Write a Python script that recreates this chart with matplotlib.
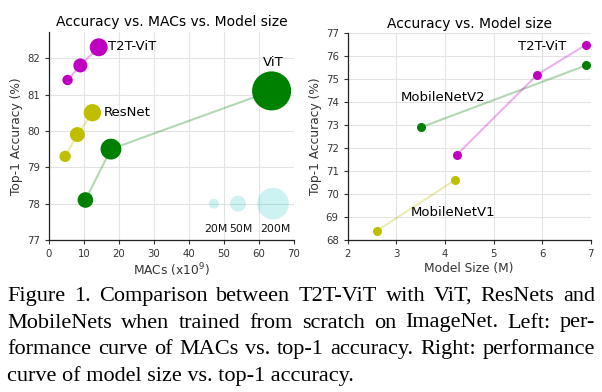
import numpy as np
import matplotlib
matplotlib.use('Agg')
import matplotlib.pyplot as plt

# Left panel: MACs (G) vs top-1, bubble = params (M)
t2t_macs = [5.3, 8.95, 14.2]
t2t_acc = [81.4, 81.8, 82.3]
t2t_params = [21.5, 39.2, 64.1]

res_macs = [4.6, 8.1, 12.4]
res_acc = [79.3, 79.9, 80.5]
res_params = [25.5, 44.6, 60.2]

vit_macs = [10.4, 17.7, 63.6]
vit_acc = [78.1, 79.5, 81.1]
vit_params = [48.6, 86.6, 304.0]

legend_x = [47.1, 54.0, 64.0]
legend_y = [78.0, 78.0, 78.0]
legend_params = [20, 50, 200]
legend_labels = ['20M', '50M', '200M']

# Right panel: model size (M) vs top-1
mbv2_size = [3.5, 6.9]
mbv2_acc = [72.9, 75.6]
t2t_size = [4.24, 5.9, 6.9]
t2t_small_acc = [71.7, 75.2, 76.5]
mbv1_size = [2.6, 4.2]
mbv1_acc = [68.4, 70.6]

caption_lines = [
    'Figure 1. Comparison between T2T-ViT with ViT, ResNets and',
    'MobileNets when trained from scratch on ImageNet.  Left: per-',
    'formance curve of MACs vs. top-1 accuracy. Right: performance',
    'curve of model size vs. top-1 accuracy.',
]

MAG = '#c000c0'
OLV = '#bfbf00'
GRN = '#008000'
SCALE = 2.6  # marker area per M params


def style(ax):
    for s in ['top', 'right']:
        ax.spines[s].set_visible(False)
    for s in ['left', 'bottom']:
        ax.spines[s].set_color('#222222')
        ax.spines[s].set_linewidth(0.9)
    ax.grid(True, color='#e3e3e3', linewidth=0.8)
    ax.set_axisbelow(True)
    ax.tick_params(labelsize=7.3, colors='#333333', length=3, width=0.8)


W, H = 602, 392
fig = plt.figure(figsize=(W / 100, H / 100), dpi=100)

ax1 = fig.add_axes([49 / W, 1 - 240 / H, 245 / W, 208 / H])
style(ax1)
for x, y, p, c in [(t2t_macs, t2t_acc, t2t_params, MAG),
                   (res_macs, res_acc, res_params, OLV),
                   (vit_macs, vit_acc, vit_params, GRN)]:
    ax1.plot(x, y, color=c, alpha=0.3, linewidth=1.5, zorder=2)
    ax1.scatter(x, y, s=np.array(p) * SCALE, color=c, edgecolors='none', zorder=3)
ax1.scatter(legend_x, legend_y, s=np.array(legend_params) * SCALE,
            color='#00bfbf', alpha=0.2, edgecolors='none', zorder=3)
for x, lab in zip(legend_x, legend_labels):
    ax1.text(x + 0.7, 77.29, lab, fontsize=7.8, ha='center', va='center', color='#111111')
ax1.text(16.8, 82.32, 'T2T-ViT', fontsize=9.5, va='center')
ax1.text(15.7, 80.51, 'ResNet', fontsize=9.5, va='center')
ax1.text(64.0, 81.88, 'ViT', fontsize=9.5, va='center', ha='center')
ax1.set_xlim(0, 70)
ax1.set_ylim(77, 82.72)
ax1.set_xticks(range(0, 71, 10))
ax1.set_yticks(range(77, 83))
ax1.set_title('Accuracy vs. MACs vs. Model size', fontsize=10, pad=4)
ax1.set_xlabel('MACs (x10$^9$)', fontsize=8.8, color='#333333', labelpad=2)
ax1.set_ylabel('Top-1 Accuracy (%)', fontsize=8.8, color='#333333', labelpad=3)

ax2 = fig.add_axes([347.7 / W, 1 - 240 / H, 243 / W, 206.7 / H])
style(ax2)
for x, y, c in [(mbv2_size, mbv2_acc, GRN),
                (t2t_size, t2t_small_acc, MAG),
                (mbv1_size, mbv1_acc, OLV)]:
    ax2.plot(x, y, color=c, alpha=0.3, linewidth=1.5, zorder=2)
    ax2.plot(x, y, 'o', color=c, markersize=6.5, markeredgewidth=0, zorder=3)
ax2.text(5.5, 76.42, 'T2T-ViT', fontsize=9.5, va='center')
ax2.text(3.1, 74.2, 'MobileNetV2', fontsize=9.5, va='center')
ax2.text(3.3, 69.2, 'MobileNetV1', fontsize=9.5, va='center')
ax2.set_xlim(2, 7)
ax2.set_ylim(68, 77)
ax2.set_xticks(range(2, 8))
ax2.set_yticks(range(68, 78))
ax2.set_title('Accuracy vs. Model size', fontsize=10, pad=4)
ax2.set_xlabel('Model Size (M)', fontsize=8.8, color='#333333', labelpad=2)
ax2.set_ylabel('Top-1 Accuracy (%)', fontsize=8.8, color='#333333', labelpad=3)

# justified caption
fig.canvas.draw()
r = fig.canvas.get_renderer()
left, right = 7.3, 595.0
baselines = [301, 327.5, 354, 380.5]
cap_font = dict(family='Liberation Serif', fontsize=16, color='black')
for i, (line, base) in enumerate(zip(caption_lines, baselines)):
    words = line.split()
    y = 1 - base / H
    if i == len(caption_lines) - 1:
        fig.text(left / W, y, line, va='baseline', **cap_font)
        continue
    texts = [fig.text(0, y, w, va='baseline', **cap_font) for w in words]
    widths = [t.get_window_extent(r).width for t in texts]
    gap = (right - left - sum(widths)) / (len(words) - 1)
    x = left
    for t, wd in zip(texts, widths):
        t.set_x(x / W)
        x += wd + gap

fig.savefig('out.png', dpi=100)
